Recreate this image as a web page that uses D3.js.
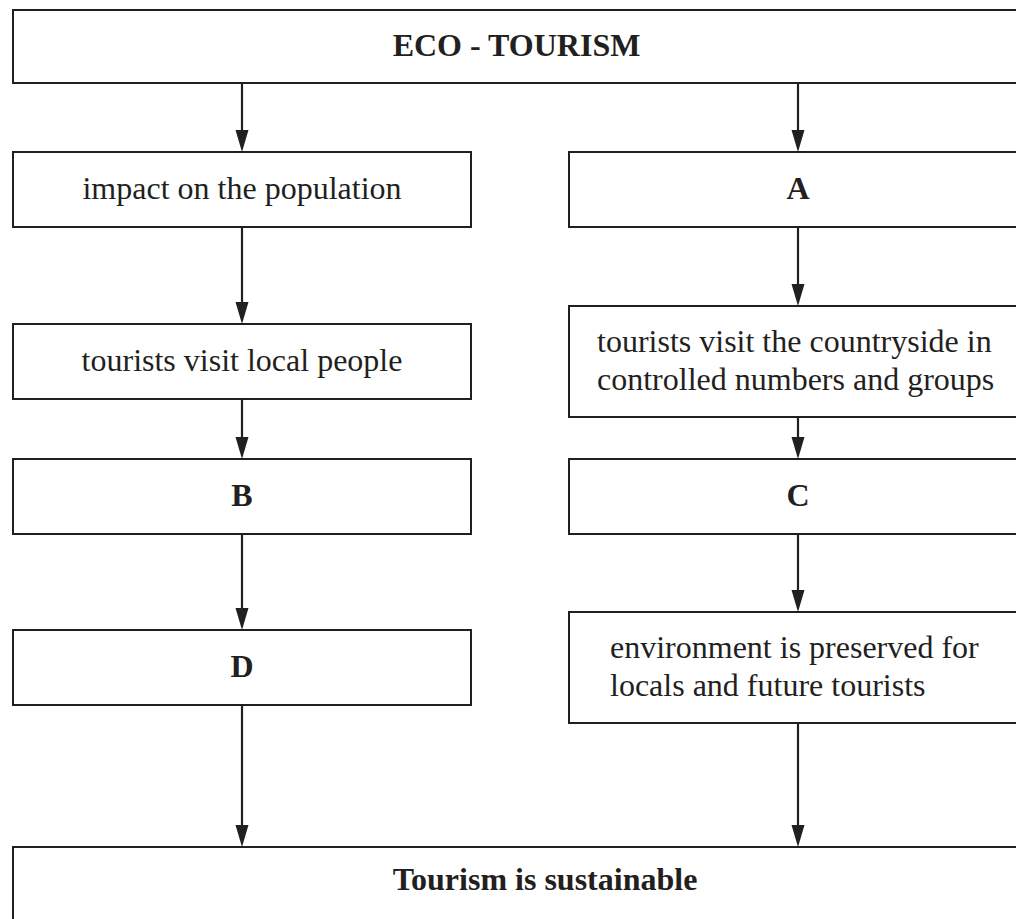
<!DOCTYPE html>
<html>
<head>
<meta charset="utf-8">
<script src="https://cdn.jsdelivr.net/npm/d3@7"></script>
<style>
  body { margin: 0; background: #fff; }
  svg { display: block; }
  .box { fill: #fff; stroke: #231f20; stroke-width: 2; }
  .link { stroke: #231f20; stroke-width: 2.2; }
  .head { fill: #231f20; }
  .label { font-family: "Liberation Serif", "Times New Roman", serif; font-size: 32px; fill: #231f20; }
</style>
</head>
<body>
<div id="chart"></div>
<script>
// node labels
var title = "ECO - TOURISM";
var conclusion = "Tourism is sustainable";
var leftLabels = ["impact on the population", "tourists visit local people", "B", "D"];
var rightLabels = ["A", ["tourists visit the countryside in", "controlled numbers and groups"], "C",
  ["environment is preserved for", "locals and future tourists"]];
var boldLabels = ["ECO - TOURISM", "Tourism is sustainable", "A", "B", "C", "D"];

var svgWidth = 1016;
var svgHeight = 919;

var svg = d3.select("#chart")
  .append("svg")
  .attr("width", svgWidth)
  .attr("height", svgHeight);

// layout (box tops / bottoms)
var leftRows = [[152, 227], [324, 399], [459, 534], [630, 705]];
var rightRows = [[152, 227], [306, 417], [459, 534], [612, 723]];
var rightTextX = [null, 597, null, 610];

var nodes = [];
nodes.push({ text: title, x0: 13, x1: 1020, y0: 10, y1: 83 });
leftLabels.forEach(function(t, i) {
  nodes.push({ text: t, x0: 13, x1: 471, y0: leftRows[i][0], y1: leftRows[i][1], col: "L", row: i });
});
rightLabels.forEach(function(t, i) {
  nodes.push({ text: t, x0: 569, x1: 1027, y0: rightRows[i][0], y1: rightRows[i][1], col: "R", row: i, tx: rightTextX[i] });
});
nodes.push({ text: conclusion, x0: 13, x1: 1077, y0: 847, y1: 980 });

// arrows
var links = [];
[["L", 242, leftRows], ["R", 798, rightRows]].forEach(function(c) {
  var ys = [83].concat(c[2].map(function(r) { return r[1]; }));
  var tops = c[2].map(function(r) { return r[0]; }).concat([847]);
  tops.forEach(function(t, i) {
    links.push({ x: c[1], y0: ys[i], y1: t });
  });
});

var headLen = 22, headHalf = 6.5;

svg.selectAll("rect.box")
  .data(nodes)
  .enter()
  .append("rect")
  .attr("class", "box")
  .attr("x", d => d.x0)
  .attr("y", d => d.y0)
  .attr("width", d => d.x1 - d.x0)
  .attr("height", d => d.y1 - d.y0);

svg.selectAll("line.link")
  .data(links)
  .enter()
  .append("line")
  .attr("class", "link")
  .attr("x1", d => d.x)
  .attr("x2", d => d.x)
  .attr("y1", d => d.y0)
  .attr("y2", d => d.y1 - headLen + 2);

svg.selectAll("path.head")
  .data(links)
  .enter()
  .append("path")
  .attr("class", "head")
  .attr("d", d => `M${d.x - headHalf},${d.y1 - headLen} L${d.x + headHalf},${d.y1 - headLen} L${d.x},${d.y1} Z`);

var labels = svg.selectAll("text.label")
  .data(nodes)
  .enter()
  .append("text")
  .attr("class", "label")
  .style("font-weight", d => boldLabels.indexOf(d.text) >= 0 ? "bold" : "normal");

labels.each(function(d) {
  var el = d3.select(this);
  var cy = d.text === conclusion ? 880.5 : (d.y0 + d.y1) / 2;
  if (Array.isArray(d.text)) {
    el.attr("text-anchor", "start");
    d.text.forEach(function(line, i) {
      el.append("tspan")
        .attr("x", d.tx)
        .attr("y", cy - 19 + 9.5 + i * 38)
        .text(line);
    });
  } else {
    el.attr("text-anchor", "middle")
      .attr("x", (d.x0 + d.x1) / 2)
      .attr("y", cy + 9.5)
      .text(d.text);
  }
});
</script>
</body>
</html>
